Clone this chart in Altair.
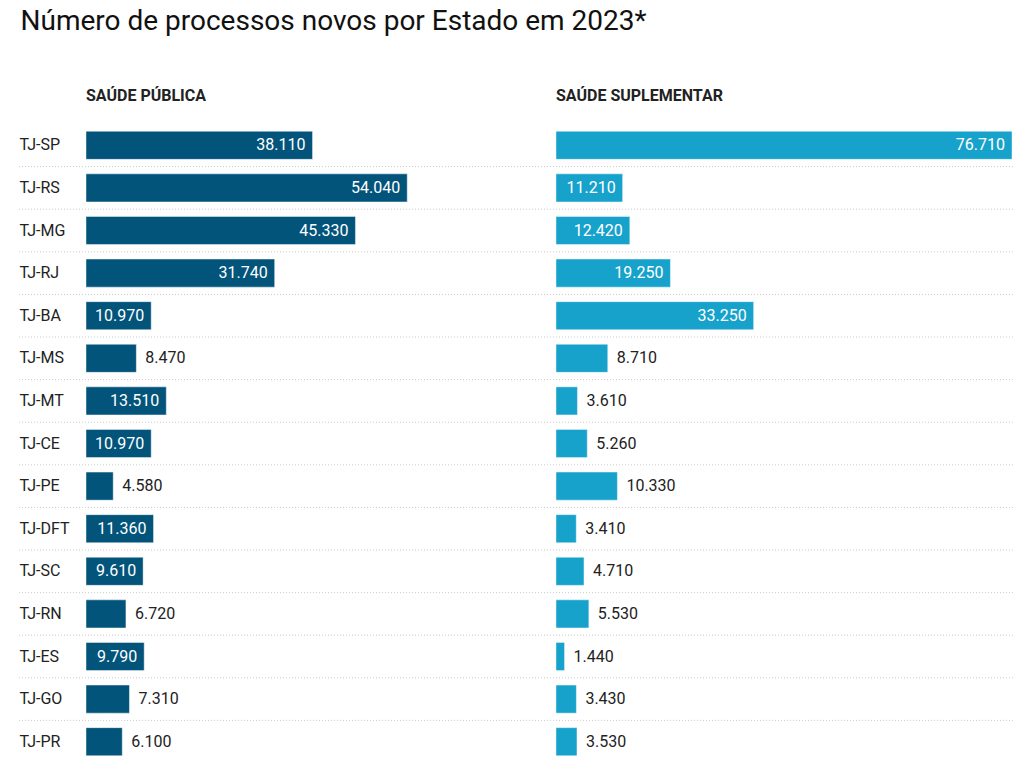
import altair as alt
import pandas as pd

states = ["TJ-SP", "TJ-RS", "TJ-MG", "TJ-RJ", "TJ-BA", "TJ-MS", "TJ-MT", "TJ-CE",
          "TJ-PE", "TJ-DFT", "TJ-SC", "TJ-RN", "TJ-ES", "TJ-GO", "TJ-PR"]
publica = [38110, 54040, 45330, 31740, 10970, 8470, 13510, 10970, 4580, 11360,
           9610, 6720, 9790, 7310, 6100]
suplementar = [76710, 11210, 12420, 19250, 33250, 8710, 3610, 5260, 10330, 3410,
               4710, 5530, 1440, 3430, 3530]

title_text = "Número de processos novos por Estado em 2023*"
panel_titles = ["SAÚDE PÚBLICA", "SAÚDE SUPLEMENTAR"]
colors = ["#02547b", "#17a2cc"]
inside_min = [9000, 10500]

W = 456
H = 639
STEP = H / len(states)
XMAX = 76710


def panel(values, color, ptitle, show_axis, thresh):
    df = pd.DataFrame({"estado": states, "v": values})
    yaxis = alt.Axis(title=None, domain=False, ticks=False, labelAlign="left",
                     labelPadding=67, labelFontSize=16, labelColor="#222222",
                     labelFont="Roboto", grid=False) if show_axis else None
    y = alt.Y("estado:N", sort=states, axis=yaxis,
              scale=alt.Scale(paddingInner=0.34, paddingOuter=0.17))
    base = alt.Chart(df).transform_calculate(
        lab="replace(format(datum.v, ','), ',', '.')"
    )
    x = alt.X("v:Q", scale=alt.Scale(domain=[0, XMAX], nice=False, zero=True), axis=None)
    layers = []
    if show_axis:
        grid = base.mark_rule(color="#cccccc", strokeDash=[1, 2], strokeWidth=1,
                              yOffset=STEP / 2).encode(
            y=y, x=alt.value(-67), x2=alt.value(929))
        layers.append(grid)
    bars = base.mark_bar(color=color, stroke="#ffffff", strokeOpacity=0.45,
                         strokeWidth=1).encode(x=x, y=y)
    inside = base.transform_filter(f"datum.v >= {thresh}").mark_text(
        align="right", baseline="middle", dx=-7, fontSize=16, font="Roboto",
        color="#ffffff").encode(x=x, y=y, text="lab:N")
    outside = base.transform_filter(f"datum.v < {thresh}").mark_text(
        align="left", baseline="middle", dx=9, fontSize=16, font="Roboto",
        color="#222222").encode(x=x, y=y, text="lab:N")
    layers += [bars, inside, outside]
    return alt.layer(*layers).properties(
        width=W, height=H,
        title=alt.TitleParams(ptitle, anchor="start", frame="group", font="Roboto",
                              fontSize=16, fontWeight="bold", color="#222222",
                              offset=20),
    )


left = panel(publica, colors[0], panel_titles[0], True, inside_min[0])
right = panel(suplementar, colors[1], panel_titles[1], False, inside_min[1])

chart = alt.hconcat(left, right, spacing=14, bounds="flush").properties(
    title=alt.TitleParams(title_text, anchor="start", font="Roboto", fontSize=28,
                          fontWeight="normal", color="#111111", offset=52, dx=2),
    padding={"left": 10, "top": 0, "right": 0, "bottom": 0},
).configure_view(strokeWidth=0)

chart.save("out.html", embed_options={"renderer": "svg", "actions": False})
